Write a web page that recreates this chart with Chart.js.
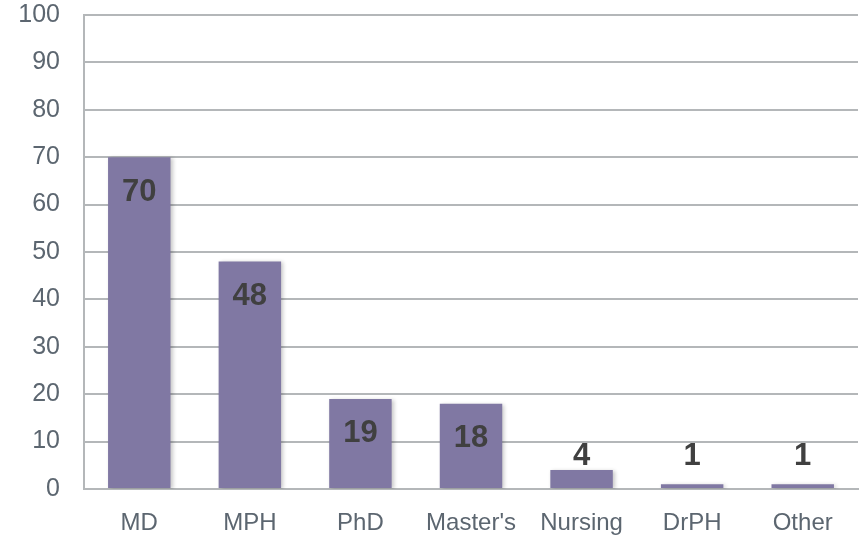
<!DOCTYPE html>
<html>
<head>
<meta charset="utf-8">
<script src="https://cdn.jsdelivr.net/npm/chart.js@4.4.0/dist/chart.umd.min.js"></script>
<style>
  html, body { margin: 0; padding: 0; background: #ffffff; }
  #wrap { width: 862px; height: 536px; }
</style>
</head>
<body>
<div id="wrap"><canvas id="c" width="862" height="536"></canvas></div>
<script>
const categories = ["MD", "MPH", "PhD", "Master's", "Nursing", "DrPH", "Other"];
const counts = [70, 48, 19, 18, 4, 1, 1];
const yTicks = [0, 10, 20, 30, 40, 50, 60, 70, 80, 90, 100];

const barColor = '#8078a3';
const gridColor = '#b4b7b9';
const tickColor = '#5c6670';
const labelColor = '#404040';
const fontFamily = '"Liberation Sans", Arial, sans-serif';

const shadowPlugin = {
  id: 'barShadow',
  beforeDatasetsDraw(chart) {
    const ctx = chart.ctx;
    ctx.save();
    ctx.shadowColor = 'rgba(0,0,0,0.22)';
    ctx.shadowBlur = 4;
    ctx.shadowOffsetX = 2;
    ctx.shadowOffsetY = 1;
  },
  afterDatasetsDraw(chart) {
    chart.ctx.restore();
  }
};

const labelPlugin = {
  id: 'valueLabels',
  afterDraw(chart) {
    const ctx = chart.ctx;
    const meta = chart.getDatasetMeta(0);
    const data = chart.data.datasets[0].data;
    ctx.save();
    ctx.font = 'bold 31px ' + fontFamily;
    ctx.fillStyle = labelColor;
    ctx.textAlign = 'center';
    ctx.textBaseline = 'middle';
    meta.data.forEach((bar, i) => {
      const top = bar.y;
      const base = bar.base;
      const cy = Math.min(top + 35, base - 31.5);
      ctx.fillText(String(data[i]), bar.x, cy);
    });
    ctx.restore();
  }
};

new Chart(document.getElementById('c'), {
  type: 'bar',
  data: {
    labels: categories,
    datasets: [{
      data: counts,
      backgroundColor: barColor,
      borderWidth: 0,
      barPercentage: 0.565,
      categoryPercentage: 1.0
    }]
  },
  options: {
    responsive: false,
    devicePixelRatio: 1,
    animation: false,
    layout: { padding: { left: 0, right: 4, top: 15, bottom: 0 } },
    plugins: {
      legend: { display: false },
      tooltip: { enabled: false },
      title: { display: false }
    },
    scales: {
      x: {
        grid: { display: false, drawTicks: false },
        border: { display: true, color: gridColor, width: 2 },
        ticks: {
          color: tickColor,
          font: { family: fontFamily, size: 24 },
          padding: 20,
          maxRotation: 0,
          autoSkip: false
        },
        afterFit(scale) {
          scale.height = 47;
          scale.paddingLeft = 0; scale.paddingRight = 0;
        }
      },
      y: {
        min: 0,
        max: 100,
        afterBuildTicks(scale) { scale.ticks = yTicks.map(v => ({ value: v })); },
        grid: { color: gridColor, lineWidth: 2, drawTicks: false },
        border: { display: true, color: gridColor, width: 2 },
        ticks: {
          color: tickColor,
          font: { family: fontFamily, size: 25 },
          padding: 24
        },
        afterFit(scale) {
          scale.width = 84;
          scale.paddingTop = 0; scale.paddingBottom = 0;
        }
      }
    }
  },
  plugins: [shadowPlugin, labelPlugin]
});
</script>
</body>
</html>
